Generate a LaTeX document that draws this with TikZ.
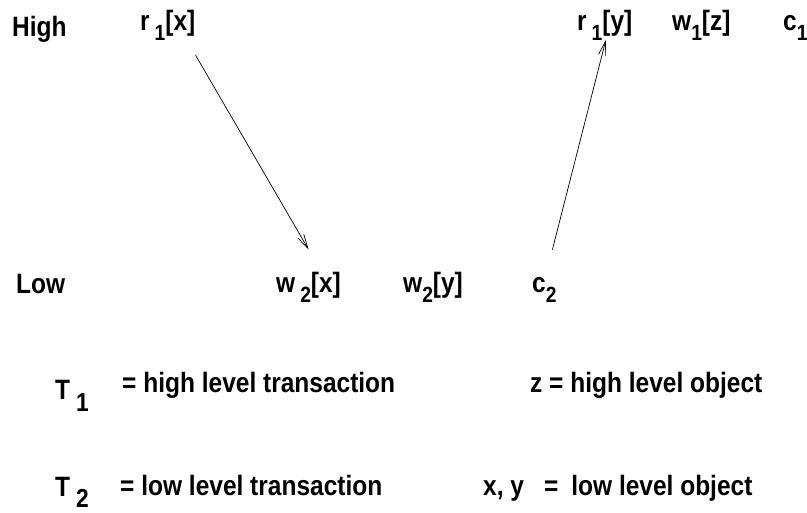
\documentclass[tikz,border=0pt]{standalone}
\usepackage{fontspec}
\setmainfont{Liberation Sans}[FakeStretch=0.875]
\usetikzlibrary{arrows.meta}

\newcommand{\lsub}[1]{\raisebox{-10pt}{\fontsize{22}{22}\selectfont #1}}
\newcommand{\tsub}[1]{\raisebox{-12pt}{\fontsize{26}{26}\selectfont #1}}

\begin{document}
\begin{tikzpicture}[
    x=1pt, y=-1pt,
    every node/.style={inner sep=0pt, font=\fontsize{28}{28}\selectfont\bfseries},
    op/.style={anchor=base west},
    lvl/.style={anchor=base west},
    note/.style={anchor=base west},
    arrow/.style={-{Straight Barb[length=14pt,width=7pt]}, line width=0.7pt}
]
\useasboundingbox (0,0) rectangle (807,513);

% levels
\node[lvl] (high) at (12,37) {High};
\node[lvl] (low) at (16,294) {Low};

% high level operations
\node[op] (r1x) at (140,31) {r\hspace{5pt}\lsub{1}[x]};
\node[op] (r1y) at (577,31) {r\hspace{5pt}\lsub{1}[y]};
\node[op] (w1z) at (672,31) {w\lsub{1}[z]};
\node[op] (c1) at (783,31) {c\lsub{1}};

% low level operations
\node[op] (w2x) at (276,293) {w\hspace{5pt}\lsub{2}[x]};
\node[op] (w2y) at (403,293) {w\lsub{2}[y]};
\node[op] (c2) at (532,293) {c\lsub{2}};

% legend
\node[note] (t1) at (55,400) {T\hspace{6pt}\tsub{1}};
\node[note] (t1txt) at (122,392) {= high level transaction};
\node[note] (zobj) at (530,392) {z = high level object};
\node[note] (t2) at (55,496) {T\hspace{6pt}\tsub{2}};
\node[note] (t2txt) at (120,495) {= low level transaction};
\node[note] (xyobj) at (483,495) {x, y\hspace{20pt}=\hspace{13pt}low level object};

\draw[arrow] ([yshift=-14pt]r1x.south east) -- ([yshift=23pt]w2x.north);
\draw[arrow] ([xshift=8pt,yshift=28pt]c2.north) -- ([xshift=1pt,yshift=1pt]r1y.south);

\end{tikzpicture}
\end{document}
